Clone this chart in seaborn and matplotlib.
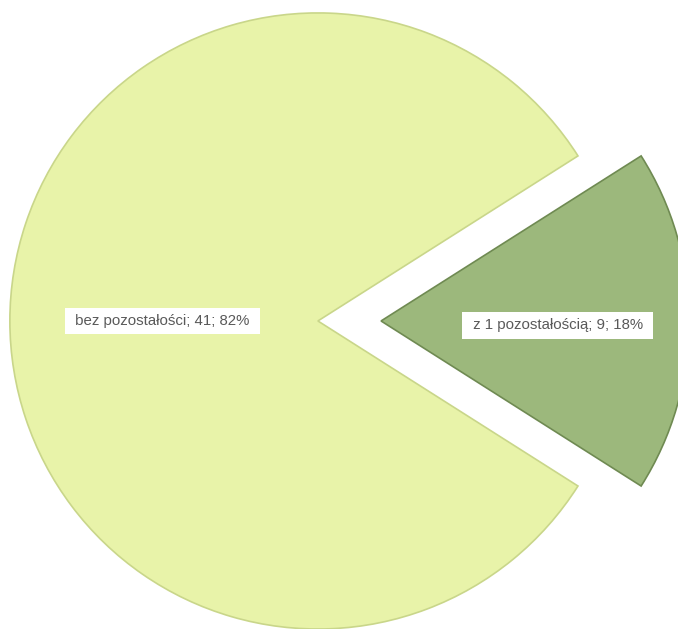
import seaborn as sns
import matplotlib.pyplot as plt

sns.set_theme(style="white")
plt.rcParams['font.family'] = ['Liberation Sans', 'DejaVu Sans']

categories = ['bez pozostałości', 'z 1 pozostałością']
counts = [41, 9]
percents = [82, 18]
colors = ['#E8F3A9', '#9CB87C']
edge_colors = ['#C9D68A', '#6F8A52']

fig = plt.figure(figsize=(6.78, 6.29), dpi=100)
ax = fig.add_axes([0, 0, 1, 1])

wedges, _ = ax.pie(counts, colors=colors, startangle=32.4, counterclock=True,
                   explode=[0, 0.205], radius=1.0,
                   wedgeprops=dict(linewidth=1.2))
for w, ec in zip(wedges, edge_colors):
    w.set_edgecolor(ec)

labels = [f' {c}; {n}; {p}% ' for c, n, p in zip(categories, counts, percents)]
label_pos = [(-0.504, 0.0), (0.779, -0.014)]
for txt, (x, y) in zip(labels, label_pos):
    ax.text(x, y, txt, ha='center', va='center', fontsize=10.8, color='#595959',
            bbox=dict(boxstyle='square,pad=0.42', facecolor='white', edgecolor='none'))

ax.set_xlim(-1.032, 1.169)
ax.set_ylim(-1.0, 1.042)
ax.set_aspect('equal')
ax.axis('off')

fig.savefig('out.png', dpi=100)
